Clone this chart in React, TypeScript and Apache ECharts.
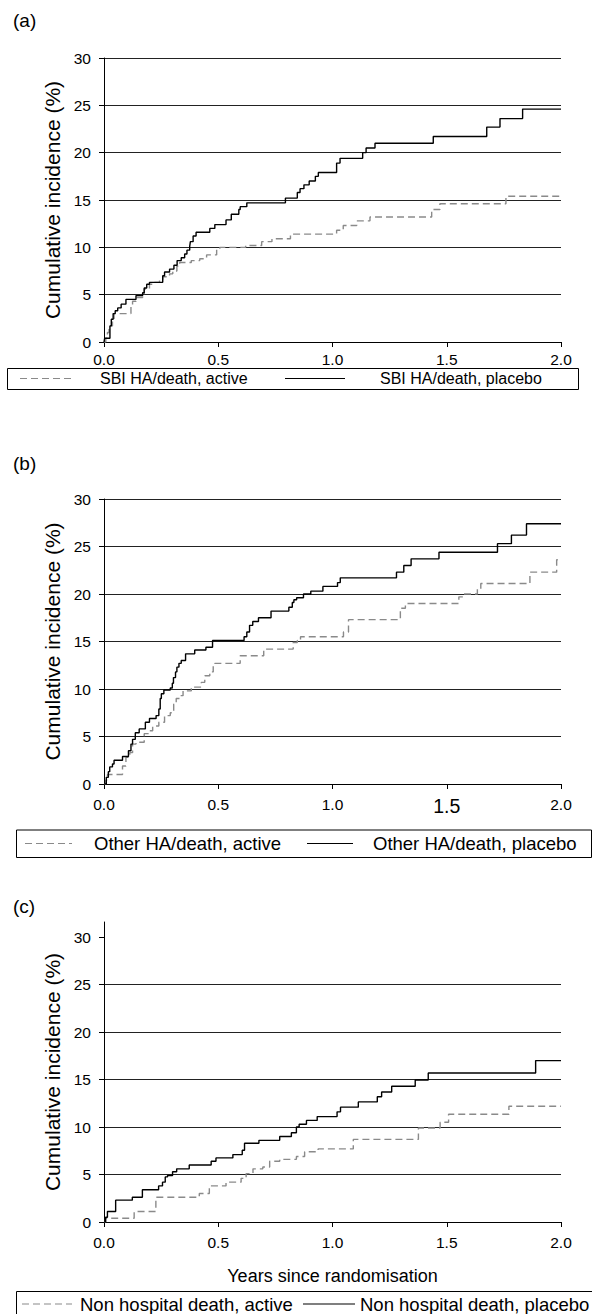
import { useEffect, useRef } from 'react';
import * as echarts from 'echarts';

type Pt = [number, number];

// Panel (a): SBI hospital admission / death
const sbiActive: Pt[] = [
  [0, 0], [0.008, 0.4], [0.015, 1.0], [0.022, 1.7], [0.037, 2.2], [0.044, 3.0], [0.118, 3.8], [0.125, 4.3],
  [0.14, 4.7], [0.169, 5.0], [0.176, 5.6], [0.199, 6.1], [0.213, 6.3], [0.243, 6.6], [0.257, 6.9], [0.287, 7.2],
  [0.301, 7.5], [0.319, 8.0], [0.331, 8.4], [0.382, 8.6], [0.419, 8.8], [0.449, 9.2], [0.493, 9.8], [0.507, 10.0],
  [0.62, 10.2], [0.69, 10.6], [0.735, 10.9], [0.816, 11.4], [1.018, 11.8], [1.047, 12.3], [1.106, 12.8],
  [1.164, 13.2], [1.434, 14.0], [1.47, 14.6], [1.759, 15.4], [2.0, 15.4],
];
const sbiPlacebo: Pt[] = [
  [0, 0], [0.003, 0.4], [0.026, 1.7], [0.032, 2.4], [0.04, 3.0], [0.049, 3.3], [0.06, 3.6], [0.075, 4.0],
  [0.096, 4.5], [0.14, 4.9], [0.169, 5.2], [0.176, 5.7], [0.187, 6.1], [0.199, 6.3], [0.257, 7.0], [0.265, 7.4],
  [0.287, 7.7], [0.306, 8.1], [0.32, 8.6], [0.338, 8.9], [0.353, 9.3], [0.363, 9.7], [0.375, 10.1], [0.378, 10.6],
  [0.39, 11.2], [0.403, 11.6], [0.463, 12.0], [0.485, 12.4], [0.534, 12.9], [0.557, 13.5], [0.59, 14.0],
  [0.596, 14.3], [0.625, 14.7], [0.794, 15.2], [0.846, 15.8], [0.858, 16.2], [0.875, 16.6], [0.898, 17.0],
  [0.925, 17.5], [0.938, 17.9], [1.018, 18.9], [1.033, 19.4], [1.132, 20.0], [1.147, 20.5], [1.186, 21.0],
  [1.441, 21.7], [1.675, 22.7], [1.733, 23.6], [1.832, 24.6], [2.0, 24.6],
];

// Panel (b): other hospital admission / death
const otherActive: Pt[] = [
  [0, 0], [0.008, 0.4], [0.015, 1.0], [0.081, 1.9], [0.096, 2.8], [0.113, 3.3], [0.125, 4.2], [0.14, 4.4],
  [0.176, 5.3], [0.199, 5.6], [0.213, 6.1], [0.24, 6.5], [0.265, 7.2], [0.29, 7.5], [0.305, 8.4], [0.316, 9.0],
  [0.331, 9.3], [0.346, 9.8], [0.382, 10.2], [0.426, 10.7], [0.441, 11.4], [0.463, 11.8], [0.478, 12.5],
  [0.485, 12.7], [0.596, 13.5], [0.699, 14.1], [0.706, 14.2], [0.828, 14.9], [0.846, 15.1], [0.86, 15.5],
  [1.048, 16.0], [1.07, 17.3], [1.297, 18.5], [1.319, 19.0], [1.553, 19.7], [1.575, 20.0], [1.634, 20.5],
  [1.649, 21.1], [1.864, 22.3], [1.981, 23.6], [2.0, 23.6],
];
const otherPlacebo: Pt[] = [
  [0, 0], [0.01, 0.7], [0.019, 1.3], [0.025, 1.8], [0.037, 2.1], [0.044, 2.5], [0.081, 2.9], [0.107, 3.5],
  [0.118, 4.2], [0.125, 4.7], [0.137, 5.4], [0.154, 5.8], [0.181, 6.5], [0.199, 6.9], [0.228, 7.2], [0.24, 7.9],
  [0.246, 9.0], [0.251, 9.5], [0.262, 9.9], [0.29, 10.1], [0.299, 10.6], [0.304, 11.2], [0.313, 11.8],
  [0.319, 12.3], [0.328, 12.7], [0.338, 13.0], [0.357, 13.7], [0.397, 14.1], [0.446, 14.4], [0.475, 15.1],
  [0.613, 15.5], [0.625, 16.0], [0.637, 16.7], [0.651, 17.1], [0.676, 17.5], [0.731, 18.2], [0.809, 18.6],
  [0.824, 19.1], [0.831, 19.4], [0.843, 19.6], [0.873, 20.0], [0.905, 20.3], [0.958, 20.8], [1.022, 21.2],
  [1.034, 21.7], [1.28, 22.3], [1.312, 23.0], [1.344, 23.7], [1.466, 24.4], [1.722, 25.3], [1.783, 26.2],
  [1.849, 27.4], [2.0, 27.4],
];

// Panel (c): non hospital death
const nonHospActive: Pt[] = [
  [0, 0], [0.007, 0.4], [0.132, 1.1], [0.227, 2.6], [0.417, 3.0], [0.461, 3.8], [0.534, 4.2], [0.6, 4.6],
  [0.622, 5.1], [0.652, 5.6], [0.695, 5.8], [0.725, 6.4], [0.769, 6.6], [0.842, 6.9], [0.878, 7.4],
  [0.937, 7.7], [1.091, 8.7], [1.376, 9.9], [1.471, 10.5], [1.508, 11.35], [1.772, 12.2], [2.0, 12.2],
];
const nonHospPlacebo: Pt[] = [
  [0, 0], [0.007, 0.5], [0.015, 1.1], [0.051, 2.3], [0.124, 2.6], [0.168, 3.4], [0.239, 3.8], [0.256, 4.2],
  [0.268, 4.75], [0.278, 4.9], [0.3, 5.3], [0.318, 5.6], [0.373, 6.0], [0.469, 6.4], [0.49, 6.75],
  [0.564, 7.1], [0.605, 7.55], [0.615, 8.3], [0.678, 8.6], [0.769, 9.0], [0.82, 9.4], [0.842, 10.0],
  [0.854, 10.3], [0.886, 10.7], [0.933, 11.1], [1.02, 11.6], [1.035, 12.1], [1.113, 12.65], [1.196, 13.2],
  [1.215, 13.7], [1.259, 14.3], [1.362, 14.95], [1.419, 15.7], [1.889, 17.0], [2.0, 17.0],
];

const xTickValues = [0, 0.5, 1, 1.5, 2];
const yTickValues = [0, 5, 10, 15, 20, 25, 30];
const panelLabels = ['(a)', '(b)', '(c)'];
const legendNames = [
  ['SBI HA/death, active', 'SBI HA/death, placebo'],
  ['Other HA/death, active', 'Other HA/death, placebo'],
  ['Non hospital death, active', 'Non hospital death, placebo'],
];
const yAxisTitle = 'Cumulative incidence (%)';
const xAxisTitle = 'Years since randomisation';

const FONT = '"Liberation Sans", Arial, Helvetica, sans-serif';
const GRAY = '#8a8a8a';
const DASH = [7, 4];

export default function App() {
  const ref = useRef<HTMLDivElement>(null);
  useEffect(() => {
    document.body.style.margin = '0';
    const chart = echarts.init(ref.current!, null, { renderer: 'svg' });

    const grids = [
      { left: 104, top: 58, width: 457, height: 284 },
      { left: 104, top: 499, width: 457, height: 285 },
      { left: 104, top: 922, width: 457, height: 300 },
    ];
    const yMax = [30, 30, 31.6];

    const xAxes = grids.map((_, i) => ({
      type: 'value',
      gridIndex: i,
      min: 0,
      max: 2,
      interval: 0.5,
      name: i === 2 ? xAxisTitle : '',
      nameLocation: 'middle',
      nameGap: 45,
      nameTextStyle: { fontSize: 18, color: '#000', fontFamily: FONT },
      axisLine: { lineStyle: { color: '#000', width: 1 } },
      axisTick: { show: true, inside: false, length: 5, lineStyle: { color: '#000' } },
      axisLabel: {
        fontSize: 15.5,
        color: '#000',
        fontFamily: FONT,
        margin: i === 0 ? 9 : 12,
        customValues: xTickValues,
        formatter: (v: number) => (i === 1 && v === 1.5 ? '{big|1.5}' : v.toFixed(1)),
        rich: { big: { fontSize: 19.5, color: '#000', fontFamily: FONT } },
      },
      splitLine: { show: false },
    }));

    const yAxes = grids.map((_, i) => ({
      type: 'value',
      gridIndex: i,
      min: 0,
      max: yMax[i],
      interval: 5,
      name: yAxisTitle,
      nameLocation: 'middle',
      nameGap: 41,
      nameTextStyle: { fontSize: 21, color: '#000', fontFamily: FONT },
      axisLine: { show: true, lineStyle: { color: '#000', width: 1 } },
      axisTick: { show: true, inside: false, length: 5, lineStyle: { color: '#000' }, customValues: yTickValues },
      axisLabel: {
        fontSize: 15.5,
        color: '#000',
        fontFamily: FONT,
        margin: 13,
        customValues: yTickValues,
      },
      splitLine: { show: true, showMaxLine: i !== 2, lineStyle: { color: '#222', width: 1 } },
    }));

    const series = [
      [sbiActive, sbiPlacebo],
      [otherActive, otherPlacebo],
      [nonHospActive, nonHospPlacebo],
    ].flatMap((pair, i) => [
      {
        type: 'line',
        name: legendNames[i][0],
        xAxisIndex: i,
        yAxisIndex: i,
        step: 'end',
        showSymbol: false,
        data: pair[0],
        lineStyle: { color: GRAY, width: 1.4, type: DASH },
        z: 3,
      },
      {
        type: 'line',
        name: legendNames[i][1],
        xAxisIndex: i,
        yAxisIndex: i,
        step: 'end',
        showSymbol: false,
        data: pair[1],
        lineStyle: { color: '#000', width: 1.4 },
        z: 4,
      },
    ]);

    // legend boxes (decoration)
    const legendBoxes = [
      { x: 7, y: 368, w: 571, h: 21, d1: 20, d2: 75, t1: 100, s1: 285, s2: 345, t2: 380, fs: 16 },
      { x: 16, y: 829.5, w: 575, h: 27.5, d1: 25, d2: 72, t1: 94, s1: 307, s2: 353, t2: 373, fs: 18.5 },
      { x: 16, y: 1291, w: 620, h: 40, d1: 22, d2: 72, t1: 80, s1: 303, s2: 355, t2: 360, fs: 18.5 },
    ];
    const legendCenters = [378.5, 843.5, 1304];

    const graphic: any[] = [];
    legendBoxes.forEach((b, i) => {
      const cy = legendCenters[i];
      graphic.push(
        { type: 'rect', shape: { x: b.x + 0.5, y: b.y + 0.5, width: b.w, height: b.h }, style: { fill: '#fff', stroke: '#000', lineWidth: 1 } },
        { type: 'line', shape: { x1: b.d1, y1: cy, x2: b.d2, y2: cy }, style: { stroke: GRAY, lineWidth: 1.2, lineDash: DASH } },
        { type: 'text', x: b.t1, y: cy, style: { text: legendNames[i][0], fontSize: b.fs, fontFamily: FONT, fill: '#000', align: 'left', verticalAlign: 'middle' } },
        { type: 'line', shape: { x1: b.s1, y1: cy, x2: b.s2, y2: cy }, style: { stroke: '#000', lineWidth: 1.2 } },
        { type: 'text', x: b.t2, y: cy, style: { text: legendNames[i][1], fontSize: b.fs, fontFamily: FONT, fill: '#000', align: 'left', verticalAlign: 'middle' } },
      );
    });
    const labelYs = [20, 463, 906];
    panelLabels.forEach((t, i) => {
      graphic.push({ type: 'text', x: 13, y: labelYs[i], style: { text: t, fontSize: 19, fontFamily: FONT, fill: '#000', align: 'left', verticalAlign: 'middle' } });
    });

    chart.setOption({
      animation: false,
      backgroundColor: '#fff',
      textStyle: { fontFamily: FONT },
      grid: grids,
      xAxis: xAxes,
      yAxis: yAxes,
      series,
      graphic,
    });
    return () => chart.dispose();
  }, []);
  return <div ref={ref} style={{ width: 592, height: 1314 }} />;
}
